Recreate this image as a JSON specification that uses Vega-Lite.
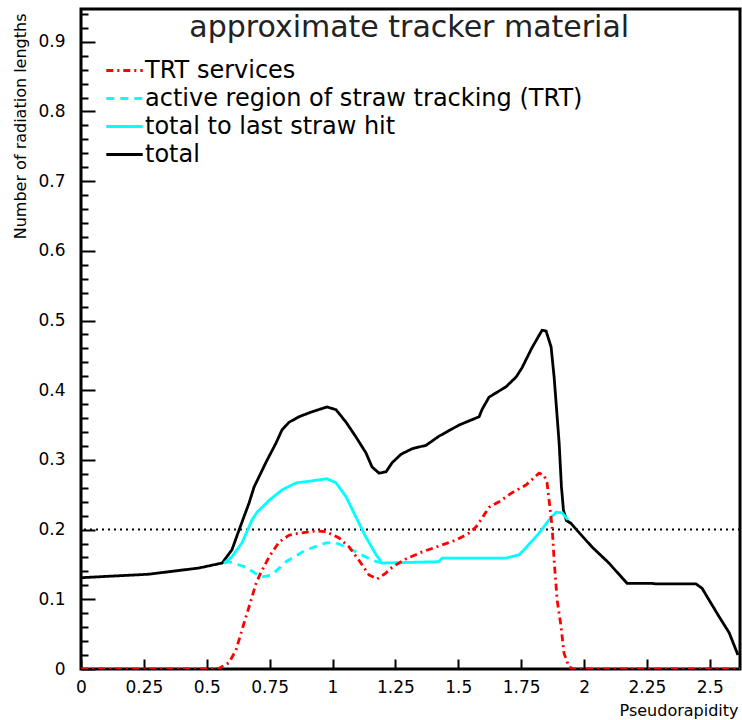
{
  "$schema": "https://vega.github.io/schema/vega-lite/v6.json",
  "autosize": "none",
  "padding": {"left": 81, "top": 9, "right": 2, "bottom": 51},
  "width": 659,
  "height": 660,
  "background": "white",
  "config": {
    "view": {"stroke": "black", "strokeWidth": 3},
    "font": "DejaVu Sans"
  },
  "datasets": {
    "curves": [
      {"s": "total", "x": 0.0, "y": 0.131},
      {"s": "total", "x": 0.27, "y": 0.136},
      {"s": "total", "x": 0.47, "y": 0.145},
      {"s": "total", "x": 0.561, "y": 0.152},
      {"s": "total", "x": 0.6, "y": 0.171},
      {"s": "total", "x": 0.628, "y": 0.199},
      {"s": "total", "x": 0.668, "y": 0.238},
      {"s": "total", "x": 0.688, "y": 0.261},
      {"s": "total", "x": 0.736, "y": 0.297},
      {"s": "total", "x": 0.775, "y": 0.324},
      {"s": "total", "x": 0.799, "y": 0.343},
      {"s": "total", "x": 0.827, "y": 0.354},
      {"s": "total", "x": 0.867, "y": 0.362},
      {"s": "total", "x": 0.918, "y": 0.369},
      {"s": "total", "x": 0.978, "y": 0.376},
      {"s": "total", "x": 1.014, "y": 0.372},
      {"s": "total", "x": 1.054, "y": 0.354},
      {"s": "total", "x": 1.093, "y": 0.333},
      {"s": "total", "x": 1.133, "y": 0.31},
      {"s": "total", "x": 1.157, "y": 0.29},
      {"s": "total", "x": 1.185, "y": 0.281},
      {"s": "total", "x": 1.213, "y": 0.283},
      {"s": "total", "x": 1.237, "y": 0.296},
      {"s": "total", "x": 1.272, "y": 0.308},
      {"s": "total", "x": 1.316, "y": 0.316},
      {"s": "total", "x": 1.372, "y": 0.321},
      {"s": "total", "x": 1.423, "y": 0.334},
      {"s": "total", "x": 1.503, "y": 0.35},
      {"s": "total", "x": 1.583, "y": 0.362},
      {"s": "total", "x": 1.594, "y": 0.372},
      {"s": "total", "x": 1.622, "y": 0.39},
      {"s": "total", "x": 1.69, "y": 0.405},
      {"s": "total", "x": 1.73, "y": 0.419},
      {"s": "total", "x": 1.753, "y": 0.432},
      {"s": "total", "x": 1.793, "y": 0.461},
      {"s": "total", "x": 1.833, "y": 0.486},
      {"s": "total", "x": 1.849, "y": 0.485},
      {"s": "total", "x": 1.869, "y": 0.462},
      {"s": "total", "x": 1.881, "y": 0.419},
      {"s": "total", "x": 1.901, "y": 0.324},
      {"s": "total", "x": 1.91, "y": 0.262},
      {"s": "total", "x": 1.918, "y": 0.228},
      {"s": "total", "x": 1.93, "y": 0.213},
      {"s": "total", "x": 1.948, "y": 0.209},
      {"s": "total", "x": 1.972, "y": 0.199},
      {"s": "total", "x": 2.032, "y": 0.175},
      {"s": "total", "x": 2.099, "y": 0.152},
      {"s": "total", "x": 2.151, "y": 0.131},
      {"s": "total", "x": 2.171, "y": 0.123},
      {"s": "total", "x": 2.27, "y": 0.123},
      {"s": "total", "x": 2.286, "y": 0.122},
      {"s": "total", "x": 2.445, "y": 0.122},
      {"s": "total", "x": 2.469, "y": 0.116},
      {"s": "total", "x": 2.497, "y": 0.099},
      {"s": "total", "x": 2.537, "y": 0.075},
      {"s": "total", "x": 2.577, "y": 0.052},
      {"s": "total", "x": 2.612, "y": 0.02},

      {"s": "total to last straw hit", "x": 0.569, "y": 0.152},
      {"s": "total to last straw hit", "x": 0.6, "y": 0.161},
      {"s": "total to last straw hit", "x": 0.64, "y": 0.181},
      {"s": "total to last straw hit", "x": 0.68, "y": 0.214},
      {"s": "total to last straw hit", "x": 0.7, "y": 0.225},
      {"s": "total to last straw hit", "x": 0.748, "y": 0.242},
      {"s": "total to last straw hit", "x": 0.799, "y": 0.257},
      {"s": "total to last straw hit", "x": 0.855, "y": 0.267},
      {"s": "total to last straw hit", "x": 0.918, "y": 0.27},
      {"s": "total to last straw hit", "x": 0.978, "y": 0.273},
      {"s": "total to last straw hit", "x": 1.014, "y": 0.267},
      {"s": "total to last straw hit", "x": 1.054, "y": 0.247},
      {"s": "total to last straw hit", "x": 1.093, "y": 0.218},
      {"s": "total to last straw hit", "x": 1.133, "y": 0.189},
      {"s": "total to last straw hit", "x": 1.173, "y": 0.164},
      {"s": "total to last straw hit", "x": 1.197, "y": 0.152},
      {"s": "total to last straw hit", "x": 1.423, "y": 0.154},
      {"s": "total to last straw hit", "x": 1.435, "y": 0.159},
      {"s": "total to last straw hit", "x": 1.69, "y": 0.159},
      {"s": "total to last straw hit", "x": 1.742, "y": 0.164},
      {"s": "total to last straw hit", "x": 1.769, "y": 0.174},
      {"s": "total to last straw hit", "x": 1.821, "y": 0.195},
      {"s": "total to last straw hit", "x": 1.861, "y": 0.214},
      {"s": "total to last straw hit", "x": 1.889, "y": 0.225},
      {"s": "total to last straw hit", "x": 1.913, "y": 0.224},
      {"s": "total to last straw hit", "x": 1.936, "y": 0.214},

      {"s": "active region of straw tracking (TRT)", "x": 0.569, "y": 0.152},
      {"s": "active region of straw tracking (TRT)", "x": 0.588, "y": 0.154},
      {"s": "active region of straw tracking (TRT)", "x": 0.656, "y": 0.146},
      {"s": "active region of straw tracking (TRT)", "x": 0.716, "y": 0.132},
      {"s": "active region of straw tracking (TRT)", "x": 0.759, "y": 0.135},
      {"s": "active region of straw tracking (TRT)", "x": 0.815, "y": 0.154},
      {"s": "active region of straw tracking (TRT)", "x": 0.895, "y": 0.171},
      {"s": "active region of straw tracking (TRT)", "x": 0.974, "y": 0.181},
      {"s": "active region of straw tracking (TRT)", "x": 1.014, "y": 0.181},
      {"s": "active region of straw tracking (TRT)", "x": 1.054, "y": 0.175},
      {"s": "active region of straw tracking (TRT)", "x": 1.105, "y": 0.166},
      {"s": "active region of straw tracking (TRT)", "x": 1.157, "y": 0.156},
      {"s": "active region of straw tracking (TRT)", "x": 1.197, "y": 0.152},

      {"s": "TRT services", "x": 0.0, "y": 0.0},
      {"s": "TRT services", "x": 0.52, "y": 0.0},
      {"s": "TRT services", "x": 0.549, "y": 0.001},
      {"s": "TRT services", "x": 0.588, "y": 0.009},
      {"s": "TRT services", "x": 0.616, "y": 0.027},
      {"s": "TRT services", "x": 0.64, "y": 0.056},
      {"s": "TRT services", "x": 0.668, "y": 0.089},
      {"s": "TRT services", "x": 0.696, "y": 0.123},
      {"s": "TRT services", "x": 0.716, "y": 0.139},
      {"s": "TRT services", "x": 0.748, "y": 0.161},
      {"s": "TRT services", "x": 0.787, "y": 0.182},
      {"s": "TRT services", "x": 0.827, "y": 0.192},
      {"s": "TRT services", "x": 0.867, "y": 0.195},
      {"s": "TRT services", "x": 0.934, "y": 0.198},
      {"s": "TRT services", "x": 0.974, "y": 0.197},
      {"s": "TRT services", "x": 1.026, "y": 0.188},
      {"s": "TRT services", "x": 1.066, "y": 0.175},
      {"s": "TRT services", "x": 1.105, "y": 0.156},
      {"s": "TRT services", "x": 1.145, "y": 0.135},
      {"s": "TRT services", "x": 1.177, "y": 0.129},
      {"s": "TRT services", "x": 1.213, "y": 0.138},
      {"s": "TRT services", "x": 1.237, "y": 0.146},
      {"s": "TRT services", "x": 1.292, "y": 0.158},
      {"s": "TRT services", "x": 1.356, "y": 0.168},
      {"s": "TRT services", "x": 1.412, "y": 0.175},
      {"s": "TRT services", "x": 1.491, "y": 0.185},
      {"s": "TRT services", "x": 1.543, "y": 0.195},
      {"s": "TRT services", "x": 1.571, "y": 0.204},
      {"s": "TRT services", "x": 1.59, "y": 0.214},
      {"s": "TRT services", "x": 1.622, "y": 0.232},
      {"s": "TRT services", "x": 1.662, "y": 0.24},
      {"s": "TRT services", "x": 1.714, "y": 0.253},
      {"s": "TRT services", "x": 1.769, "y": 0.264},
      {"s": "TRT services", "x": 1.821, "y": 0.281},
      {"s": "TRT services", "x": 1.841, "y": 0.278},
      {"s": "TRT services", "x": 1.853, "y": 0.267},
      {"s": "TRT services", "x": 1.861, "y": 0.242},
      {"s": "TRT services", "x": 1.873, "y": 0.204},
      {"s": "TRT services", "x": 1.881, "y": 0.156},
      {"s": "TRT services", "x": 1.893, "y": 0.099},
      {"s": "TRT services", "x": 1.909, "y": 0.06},
      {"s": "TRT services", "x": 1.92, "y": 0.023},
      {"s": "TRT services", "x": 1.94, "y": 0.003},
      {"s": "TRT services", "x": 1.96, "y": 0.0},
      {"s": "TRT services", "x": 2.62, "y": 0.0}
    ],
    "ref": [{"level": 0.2}],
    "titleRow": [{"label": "approximate tracker material", "xc": 1.305, "yb": 0.907}]
  },
  "layer": [
    {
      "data": {"name": "ref"},
      "mark": {"type": "rule", "stroke": "black", "strokeWidth": 2, "strokeDash": [2, 4]},
      "encoding": {"y": {"field": "level", "type": "quantitative"}}
    },
    {
      "data": {"name": "titleRow"},
      "mark": {
        "type": "text",
        "font": "DejaVu Sans",
        "fontSize": 30,
        "color": "#222222",
        "align": "center",
        "baseline": "alphabetic"
      },
      "encoding": {
        "x": {"field": "xc", "type": "quantitative"},
        "y": {"field": "yb", "type": "quantitative"},
        "text": {"field": "label"}
      }
    },
    {
      "data": {"name": "curves"},
      "mark": {"type": "line", "strokeWidth": 2.8, "clip": true},
      "encoding": {
        "x": {
          "field": "x",
          "type": "quantitative",
          "scale": {"domain": [0, 2.62], "nice": false, "zero": false},
          "axis": {
            "title": "Pseudorapidity",
            "titleFont": "DejaVu Sans",
            "titleFontSize": 16,
            "titleFontWeight": "normal",
            "titleColor": "black",
            "titleAnchor": "end",
            "titleAlign": "right",
            "titleBaseline": "alphabetic",
            "titleX": 657,
            "titleY": 46,
            "values": [0, 0.25, 0.5, 0.75, 1, 1.25, 1.5, 1.75, 2, 2.25, 2.5],
            "tickCount": 100,
            "labelOverlap": false,
            "labelExpr": "format(datum.value, '~g')",
            "labelFont": "DejaVu Sans",
            "labelFontSize": 17,
            "labelColor": "black",
            "labelPadding": 20,
            "labelFlush": false,
            "tickSize": -10,
            "tickWidth": 2,
            "tickColor": "black",
            "domain": false,
            "grid": false
          }
        },
        "y": {
          "field": "y",
          "type": "quantitative",
          "scale": {"domain": [0, 0.947], "nice": false, "zero": false},
          "axis": {
            "title": "Number of radiation lengths",
            "titleFont": "DejaVu Sans",
            "titleFontSize": 16,
            "titleFontWeight": "normal",
            "titleColor": "black",
            "titleAnchor": "end",
            "titleAlign": "right",
            "titleBaseline": "alphabetic",
            "titleAngle": -90,
            "titleX": -56,
            "titleY": 4,
            "values": [0, 0.02, 0.04, 0.06, 0.08, 0.1, 0.12, 0.14, 0.16, 0.18, 0.2, 0.22, 0.24, 0.26, 0.28, 0.3, 0.32, 0.34, 0.36, 0.38, 0.4, 0.42, 0.44, 0.46, 0.48, 0.5, 0.52, 0.54, 0.56, 0.58, 0.6, 0.62, 0.64, 0.66, 0.68, 0.7, 0.72, 0.74, 0.76, 0.78, 0.8, 0.82, 0.84, 0.86, 0.88, 0.9, 0.92, 0.94],
            "tickCount": 100,
            "labelOverlap": false,
            "labelExpr": "abs(datum.value * 10 - round(datum.value * 10)) < 0.001 ? format(datum.value, '~g') : ''",
            "labelFont": "DejaVu Sans",
            "labelFontSize": 17,
            "labelColor": "black",
            "labelPadding": 30,
            "labelFlush": false,
            "tickSize": {"condition": {"test": "abs(datum.value * 10 - round(datum.value * 10)) < 0.001", "value": -14}, "value": -7},
            "tickWidth": 2,
            "tickColor": "black",
            "domain": false,
            "grid": false
          }
        },
        "color": {
          "field": "s",
          "type": "nominal",
          "scale": {
            "domain": ["TRT services", "active region of straw tracking (TRT)", "total to last straw hit", "total"],
            "range": ["#ff0000", "#00ffff", "#00ffff", "#000000"]
          },
          "legend": {
            "title": null,
            "orient": "none",
            "legendX": 28,
            "legendY": 46,
            "symbolType": "M-1.3,0H1.3",
            "symbolSize": 784,
            "symbolStrokeWidth": 3,
            "labelFont": "DejaVu Sans",
            "labelFontSize": 24,
            "labelColor": "black",
            "labelOffset": 5,
            "labelLimit": 600,
            "rowPadding": 0
          }
        },
        "strokeDash": {
          "field": "s",
          "type": "nominal",
          "scale": {
            "domain": ["TRT services", "active region of straw tracking (TRT)", "total to last straw hit", "total"],
            "range": [[7, 4, 2, 4], [8, 6], [1, 0], [1, 0]]
          },
          "legend": null
        }
      }
    }
  ]
}
